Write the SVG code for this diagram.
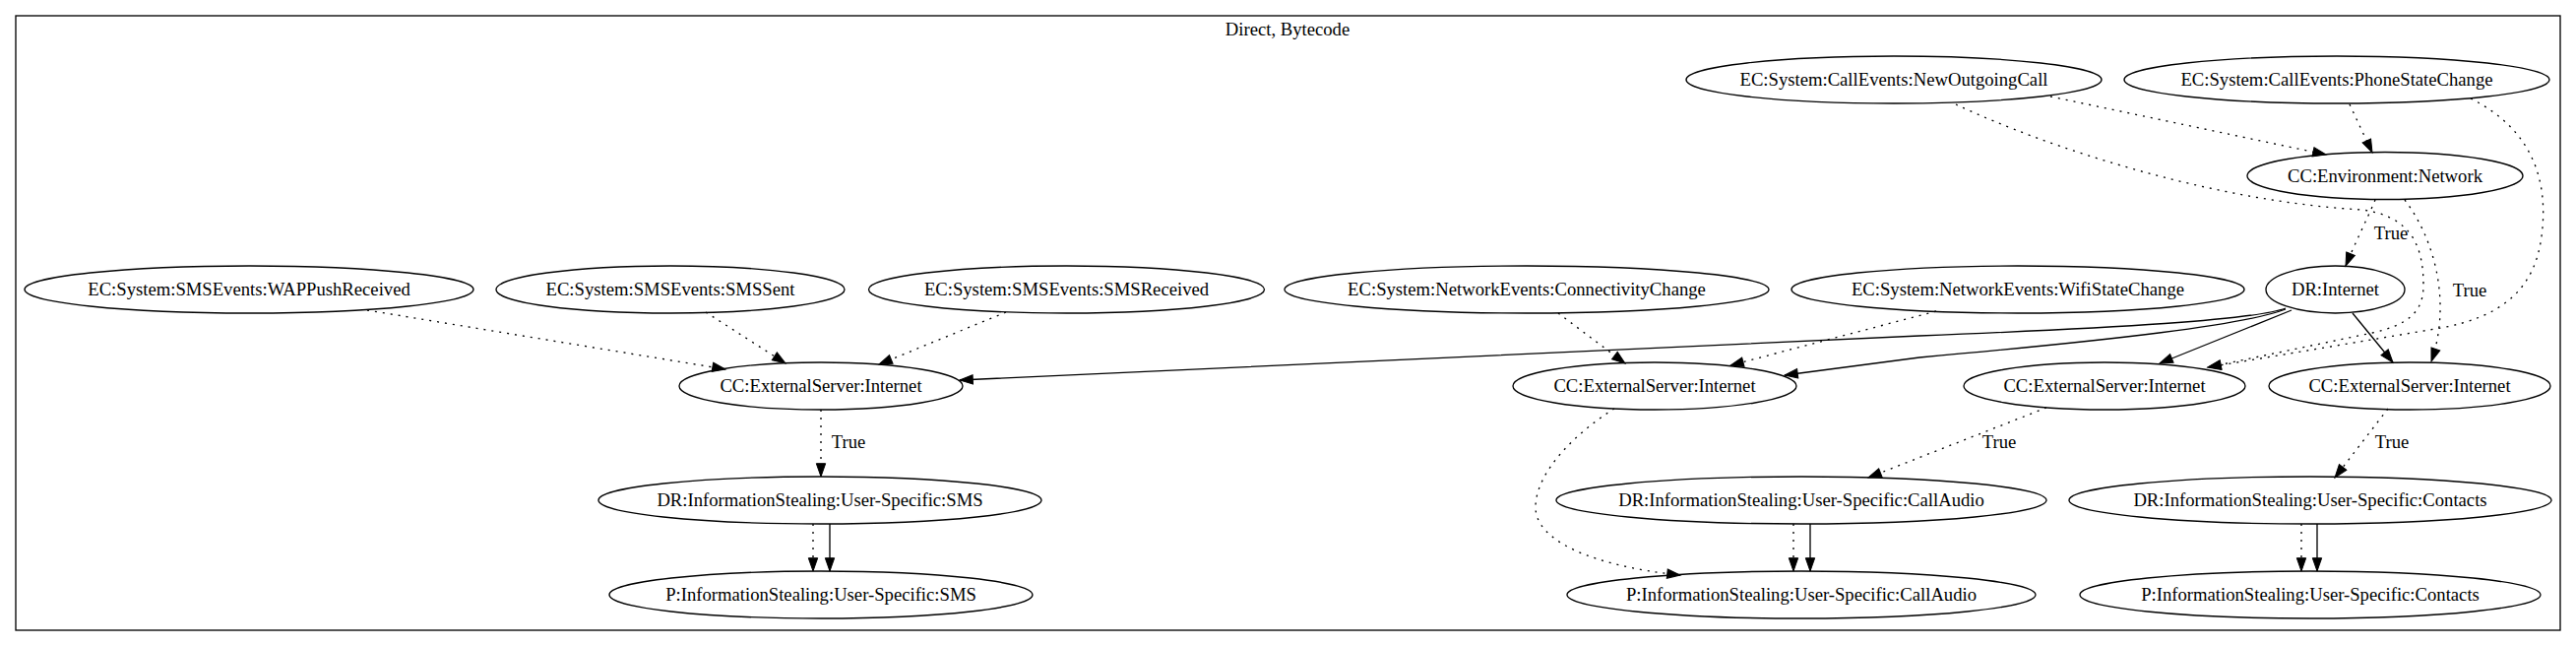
<svg xmlns="http://www.w3.org/2000/svg" width="2617" height="656" viewBox="0 0 2617 656">
<style>
.n ellipse{fill:none;stroke:#000;stroke-width:1.33}
text{font-family:"Liberation Serif","Times New Roman",serif;font-size:18.67px;fill:#000;text-anchor:middle}
.e path{fill:none;stroke:#000;stroke-width:1.33;marker-end:url(#ah)}
.e path.d{stroke-dasharray:2 6}
</style>
<defs>
<marker id="ah" markerUnits="userSpaceOnUse" markerWidth="16" markerHeight="12" viewBox="0 -6 14 12" refX="13.3" refY="0" orient="auto">
<path d="M0,-4.67 L13.3,0 L0,4.67 Z" fill="#000" stroke="#000" stroke-width="1"/>
</marker>
</defs>
<rect x="0" y="0" width="2617" height="656" fill="#fff"/>
<g id="cluster">
<rect x="16" y="16" width="2585" height="624" fill="none" stroke="#000" stroke-width="1.33"/>
<text x="1308" y="36">Direct, Bytecode</text>
</g>
<g id="edges" class="e">
<path class="d" d="M373,315 L737,375"/>
<path class="d" d="M717,317 L798,369"/>
<path class="d" d="M1022,317 L893,370"/>
<path class="d" d="M1583,318 L1651,369"/>
<path class="d" d="M1967,316 L1758,371"/>
<path d="M2322,313 C2290,325 2150,333 1950,341 L975,386"/>
<path d="M2322,314 C2280,330 2150,345 1950,363 L1813,381"/>
<path d="M2328,315 L2194,369"/>
<path d="M2390,318 L2431,368"/>
<path class="d" d="M2413,203 C2405,222 2392,248 2383,270"/>
<path class="d" d="M2443,203 C2475,245 2490,310 2470,367"/>
<path class="d" d="M2083,98 L2363,157"/>
<path class="d" d="M2387,106 L2410,155"/>
<path class="d" d="M1987,106 C2080,150 2250,205 2400,213 C2450,220 2462,250 2462,290 C2462,318 2445,330 2410,338 L2243,373"/>
<path class="d" d="M2510,100 C2570,130 2590,180 2582,240 C2575,295 2540,322 2480,333 L2243,373"/>
<path class="d" d="M2079,414 L1898,485"/>
<path class="d" d="M2426,415 L2372,485"/>
<path class="d" d="M1640,415 C1600,440 1560,480 1560,515 C1560,550 1620,575 1707,584"/>
<path class="d" d="M834,416 L834,484"/>
<path class="d" d="M826,532 L826,580"/>
<path d="M843,532 L843,580"/>
<path class="d" d="M1822,532 L1822,580"/>
<path d="M1839,532 L1839,580"/>
<path class="d" d="M2338,532 L2338,580"/>
<path d="M2354,532 L2354,580"/>
<text x="862" y="455">True</text>
<text x="2429" y="243">True</text>
<text x="2509" y="301">True</text>
<text x="2031" y="455">True</text>
<text x="2430" y="455">True</text>
</g>
<g id="n_newoutgoing" class="n"><ellipse cx="1924" cy="81" rx="211" ry="24"/><text x="1924" y="87">EC:System:CallEvents:NewOutgoingCall</text></g>
<g id="n_phonestate" class="n"><ellipse cx="2374" cy="81" rx="216" ry="24"/><text x="2374" y="87">EC:System:CallEvents:PhoneStateChange</text></g>
<g id="n_envnetwork" class="n"><ellipse cx="2423" cy="178.5" rx="140" ry="24"/><text x="2423" y="184.5">CC:Environment:Network</text></g>
<g id="n_wappush" class="n"><ellipse cx="253" cy="294" rx="228" ry="24"/><text x="253" y="300">EC:System:SMSEvents:WAPPushReceived</text></g>
<g id="n_smssent" class="n"><ellipse cx="681" cy="294" rx="177" ry="24"/><text x="681" y="300">EC:System:SMSEvents:SMSSent</text></g>
<g id="n_smsreceived" class="n"><ellipse cx="1083.5" cy="294" rx="201" ry="24"/><text x="1083.5" y="300">EC:System:SMSEvents:SMSReceived</text></g>
<g id="n_connectivity" class="n"><ellipse cx="1551" cy="294" rx="246" ry="24"/><text x="1551" y="300">EC:System:NetworkEvents:ConnectivityChange</text></g>
<g id="n_wifi" class="n"><ellipse cx="2050" cy="294" rx="230" ry="24"/><text x="2050" y="300">EC:System:NetworkEvents:WifiStateChange</text></g>
<g id="n_drinternet" class="n"><ellipse cx="2372.5" cy="294" rx="70.5" ry="24"/><text x="2372.5" y="300">DR:Internet</text></g>
<g id="n_cc1" class="n"><ellipse cx="834" cy="392" rx="144" ry="24"/><text x="834" y="398">CC:ExternalServer:Internet</text></g>
<g id="n_cc2" class="n"><ellipse cx="1681" cy="392" rx="144" ry="24"/><text x="1681" y="398">CC:ExternalServer:Internet</text></g>
<g id="n_cc3" class="n"><ellipse cx="2138" cy="392" rx="143" ry="24"/><text x="2138" y="398">CC:ExternalServer:Internet</text></g>
<g id="n_cc4" class="n"><ellipse cx="2448" cy="392" rx="143" ry="24"/><text x="2448" y="398">CC:ExternalServer:Internet</text></g>
<g id="n_drsms" class="n"><ellipse cx="833" cy="508" rx="225" ry="24"/><text x="833" y="514">DR:InformationStealing:User-Specific:SMS</text></g>
<g id="n_drcallaudio" class="n"><ellipse cx="1830" cy="508" rx="249" ry="24"/><text x="1830" y="514">DR:InformationStealing:User-Specific:CallAudio</text></g>
<g id="n_drcontacts" class="n"><ellipse cx="2347" cy="508" rx="245" ry="24"/><text x="2347" y="514">DR:InformationStealing:User-Specific:Contacts</text></g>
<g id="n_psms" class="n"><ellipse cx="834" cy="604" rx="215" ry="24"/><text x="834" y="610">P:InformationStealing:User-Specific:SMS</text></g>
<g id="n_pcallaudio" class="n"><ellipse cx="1830" cy="604" rx="238" ry="24"/><text x="1830" y="610">P:InformationStealing:User-Specific:CallAudio</text></g>
<g id="n_pcontacts" class="n"><ellipse cx="2347" cy="604" rx="234" ry="24"/><text x="2347" y="610">P:InformationStealing:User-Specific:Contacts</text></g>
</svg>
